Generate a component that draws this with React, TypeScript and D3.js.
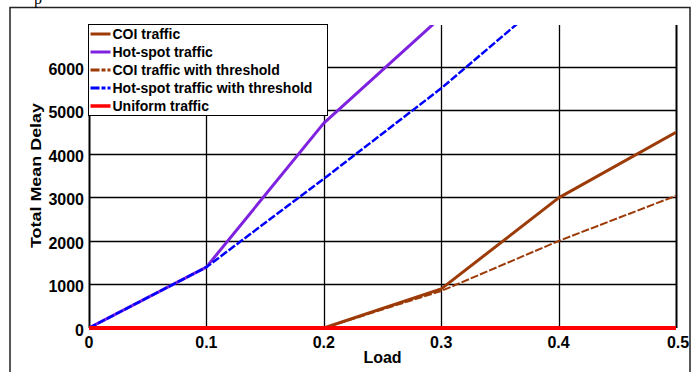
import React, { useEffect, useRef } from 'react';
import * as d3 from 'd3';

const loads = [0, 0.1, 0.2, 0.3, 0.4, 0.5];
const coi = [0, 0, 0, 900, 2990, 4500];
const hotSpot = [0, 1400, 4710, 7150];
const coiThreshold = [0, 0, 0, 850, 2000, 3040];
const hotSpotThreshold = [0, 1400, 3430, 5510, 7800];
const uniform = [0, 0, 0, 0, 0, 0];
const yTicks = [0, 1000, 2000, 3000, 4000, 5000, 6000];
const xTicks = [0, 0.1, 0.2, 0.3, 0.4, 0.5];

const series = [
  { name: 'COI traffic', values: coi, color: '#9c3b08', width: 3, dash: '' },
  { name: 'Hot-spot traffic', values: hotSpot, color: '#7f22e0', width: 3, dash: '' },
  { name: 'COI traffic with threshold', values: coiThreshold, color: '#9c3b08', width: 2, dash: '8,2' },
  { name: 'Hot-spot traffic with threshold', values: hotSpotThreshold, color: '#0000ff', width: 2.5, dash: '8,2' },
  { name: 'Uniform traffic', values: uniform, color: '#ff0000', width: 4, dash: '' },
];

const App = () => {
  const svgRef = useRef<SVGSVGElement>(null);

  useEffect(() => {
    const left = 89, right = 676, top = 25, bottom = 328;
    const svg = d3.select(svgRef.current);
    svg.selectAll('*').remove();

    const x = d3.scaleLinear().domain([0, 0.5]).range([left, right]);
    const y = d3.scaleLinear().domain([0, 6965]).range([bottom, top]);

    // outer frame
    svg.append('rect')
      .attr('x', 10).attr('y', 7.5).attr('width', 680).attr('height', 370)
      .attr('fill', 'white').attr('stroke', '#222').attr('stroke-width', 1.5);
    svg.append('text').attr('x', 34).attr('y', 4).attr('font-family', 'Liberation Serif')
      .attr('font-size', 16).text('p');

    svg.append('defs').append('clipPath').attr('id', 'plotclip')
      .append('rect').attr('x', left).attr('y', top).attr('width', right - left).attr('height', bottom - top + 3);

    const g = svg.append('g');
    // grid
    g.selectAll('.hgrid').data(yTicks.slice(1)).enter().append('line')
      .attr('x1', left).attr('x2', right)
      .attr('y1', d => Math.round(y(d)) + 0.5).attr('y2', d => Math.round(y(d)) + 0.5)
      .attr('stroke', '#000').attr('stroke-width', 1.3);
    g.selectAll('.vgrid').data(xTicks).enter().append('line')
      .attr('y1', top).attr('y2', bottom)
      .attr('x1', d => Math.round(x(d)) + 0.5).attr('x2', d => Math.round(x(d)) + 0.5)
      .attr('stroke', '#000').attr('stroke-width', d => (d === 0 || d === 0.5 ? 2 : 1.3));
    g.append('line').attr('x1', left).attr('x2', right).attr('y1', bottom + 1).attr('y2', bottom + 1)
      .attr('stroke', '#777').attr('stroke-width', 2);

    const axisFont = (sel: any) => sel.attr('font-family', 'Liberation Sans, Arial').attr('font-weight', 'bold')
      .attr('font-size', 16).attr('fill', '#000');

    g.selectAll('.ytick').data(yTicks).enter().append('text')
      .attr('x', left - 5).attr('y', d => y(d) + 8).attr('text-anchor', 'end')
      .call(axisFont).text(d => d);
    g.selectAll('.xtick').data(xTicks).enter().append('text')
      .attr('x', d => x(d) + (d === 0.5 ? 2 : 0)).attr('y', bottom + 20).attr('text-anchor', 'middle')
      .call(axisFont).text(d => d3.format('')(d));

    svg.append('text').attr('x', 382.5).attr('y', 363).attr('text-anchor', 'middle')
      .call(axisFont).text('Load');
    svg.append('text').attr('transform', 'translate(40.5,175.5) rotate(-90)')
      .attr('text-anchor', 'middle').call(axisFont).attr('font-size', 15)
      .attr('textLength', 145).attr('lengthAdjust', 'spacingAndGlyphs').text('Total Mean Delay');

    const line = d3.line<number>().x((d, i) => x(loads[i])).y(d => y(d));
    const plot = svg.append('g').attr('clip-path', 'url(#plotclip)');
    const order = [0, 2, 1, 3, 4];
    order.forEach(i => {
      const s = series[i];
      plot.append('path').datum(s.values).attr('d', line)
        .attr('fill', 'none').attr('stroke', s.color).attr('stroke-width', s.width)
        .attr('stroke-dasharray', s.dash || null).attr('stroke-linejoin', 'round');
    });

    // legend
    const lg = svg.append('g').attr('transform', 'translate(88.5,24.5)');
    lg.append('rect').attr('width', 239).attr('height', 91).attr('fill', 'white')
      .attr('stroke', '#000').attr('stroke-width', 1);
    series.forEach((s, i) => {
      const yy = 9.5 + i * 18;
      lg.append('line').attr('x1', 2).attr('x2', 22).attr('y1', yy).attr('y2', yy)
        .attr('stroke', s.color).attr('stroke-width', s.width === 4 ? 3.5 : 3)
        .attr('stroke-dasharray', s.dash ? '9,2,4,2' : null);
      lg.append('text').attr('x', 24).attr('y', yy + 5)
        .attr('font-family', 'Liberation Sans, Arial').attr('font-weight', 'bold').attr('font-size', 14)
        .text(s.name);
    });
  }, []);

  return <svg ref={svgRef} width={697} height={372} style={{ position: 'absolute', left: 0, top: 0 }}></svg>;
};

export default App;
